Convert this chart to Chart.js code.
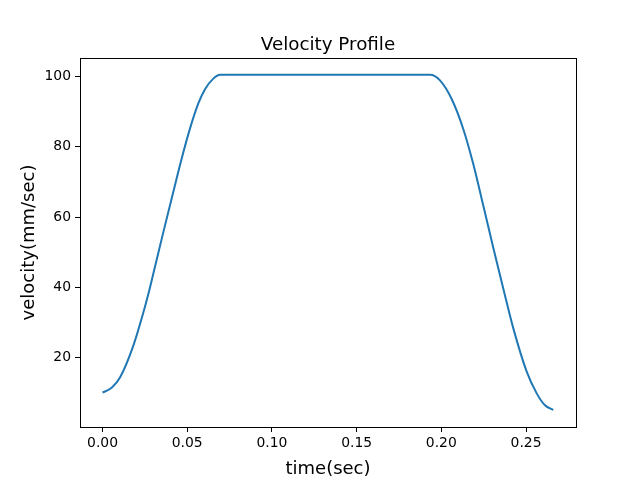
<!DOCTYPE html>
<html>
<head>
<meta charset="utf-8">
<script src="https://cdn.jsdelivr.net/npm/chart.js@4"></script>
<style>
    html, body { margin: 0; padding: 0; background: #fff; }
    #wrap { width: 640px; height: 480px; }
</style>
</head>
<body>
<div id="wrap"><canvas id="velocityChart" width="640" height="480"></canvas></div>
<script>
// values
const timeSec = [0, 0.0054, 0.0103, 0.0182, 0.0241, 0.027, 0.0300, 0.0359, 0.0418, 0.0467,
    0.0517, 0.0566, 0.0605, 0.0654, 0.0694,
    0.1933, 0.1992, 0.2061, 0.2130, 0.2189, 0.2248, 0.2307, 0.2366, 0.2425,
    0.2504, 0.2563, 0.2612, 0.2661];
const velocity = [10.0, 11.4, 14.3, 23.4, 32.8, 38.0, 43.9, 55.7, 67.2, 76.6,
    85.3, 92.4, 96.4, 99.4, 100.5,
    100.5, 98.9, 93.6, 85.0, 75.0, 63.2, 51.2, 39.6, 28.3,
    16.0, 9.8, 6.4, 5.1];
const xTicks = [0, 0.05, 0.10, 0.15, 0.20, 0.25];
const yTicks = [20, 40, 60, 80, 100];
const chartTitle = 'Velocity Profile';

const FONT = "'DejaVu Sans', sans-serif";

// spines box + title centred over the plot area, like matplotlib
const frameBox = {
    id: 'frameBox',
    afterDraw(chart) {
        const { ctx, chartArea: a } = chart;
        ctx.save();
        ctx.strokeStyle = '#000';
        ctx.lineWidth = 1;
        ctx.strokeRect(Math.round(a.left) + 0.5, Math.round(a.top) + 0.5,
            Math.round(a.right - a.left), Math.round(a.bottom - a.top));
        ctx.fillStyle = '#000';
        ctx.font = '18.3px ' + FONT;
        ctx.textAlign = 'center';
        ctx.textBaseline = 'alphabetic';
        ctx.fillText(chartTitle, (a.left + a.right) / 2, 50);
        ctx.restore();
    }
};

function initChart() {
    const points = timeSec.map((t, i) => ({ x: t, y: velocity[i] }));
    const ctx = document.getElementById('velocityChart').getContext('2d');

    new Chart(ctx, {
        type: 'line',
        data: {
            datasets: [{
                label: 'velocity',
                data: points,
                borderColor: '#1f77b4',
                borderWidth: 2,
                pointRadius: 0,
                fill: false,
                cubicInterpolationMode: 'monotone'
            }]
        },
        options: {
            responsive: false,
            animation: false,
            layout: { padding: { left: 0, right: 64, top: 58, bottom: 0 } },
            plugins: {
                legend: { display: false },
                tooltip: { enabled: false },
                title: { display: false }
            },
            scales: {
                x: {
                    type: 'linear',
                    min: -0.0133,
                    max: 0.2795,
                    afterFit: s => { s.height = 53; },
                    afterBuildTicks: s => { s.ticks = xTicks.map(v => ({ value: v })); },
                    grid: { drawOnChartArea: false, drawTicks: true, tickLength: 5, color: '#000' },
                    border: { display: true, color: '#000' },
                    ticks: {
                        color: '#000', padding: 3,
                        font: { family: FONT, size: 13.9 },
                        callback: v => v.toFixed(2)
                    },
                    title: {
                        display: true, text: 'time(sec)', color: '#000',
                        font: { family: FONT, size: 18 },
                        padding: { top: 9, bottom: 0 }
                    }
                },
                y: {
                    type: 'linear',
                    min: 0.225,
                    max: 105.275,
                    afterFit: s => { s.width = 80; },
                    afterBuildTicks: s => { s.ticks = yTicks.map(v => ({ value: v })); },
                    grid: { drawOnChartArea: false, drawTicks: true, tickLength: 5, color: '#000' },
                    border: { display: true, color: '#000' },
                    ticks: {
                        color: '#000', padding: 4,
                        font: { family: FONT, size: 13.9 }
                    },
                    title: {
                        display: true, text: 'velocity(mm/sec)', color: '#000',
                        font: { family: FONT, size: 18 },
                        padding: { top: 19, bottom: 0 }
                    }
                }
            }
        },
        plugins: [frameBox]
    });
}

document.addEventListener('DOMContentLoaded', initChart);
</script>
</body>
</html>
